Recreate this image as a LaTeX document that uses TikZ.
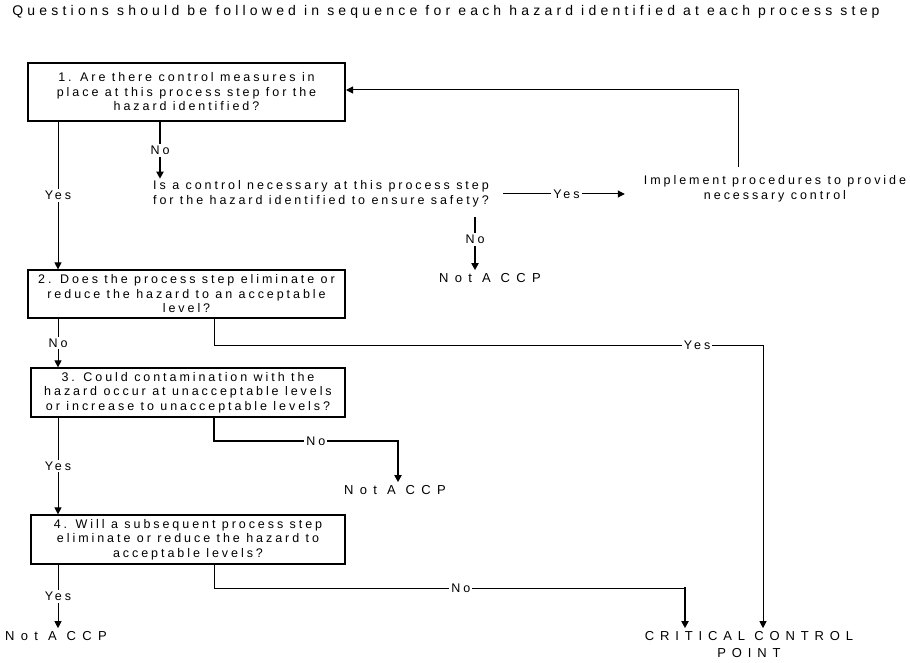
\documentclass[tikz,border=0pt]{standalone}
\usepackage{fontspec}
\setmainfont{Liberation Sans}
\newfontfamily\boxfont[LetterSpace=23.5]{Liberation Sans}
\newfontfamily\titlefont[LetterSpace=30]{Liberation Sans}
\newfontfamily\ncpfont[LetterSpace=49]{Liberation Sans}
\newfontfamily\ccpfont[LetterSpace=45]{Liberation Sans}
\usetikzlibrary{arrows.meta}
\begin{document}
\begin{tikzpicture}[x=1pt,y=-1pt,
  bfont/.style={font=\boxfont\fontsize{12.5}{14.5}\selectfont},
  qbox/.style={draw, line width=1.2pt, align=center, inner sep=0pt, bfont},
  txt/.style={align=center, inner sep=2pt, bfont},
  lbl/.style={fill=white, inner sep=2pt, bfont},
  ncp/.style={inner sep=3pt, font=\ncpfont\fontsize{13}{17}\selectfont},
  ccp/.style={align=center, inner sep=3pt, font=\ccpfont\fontsize{13}{17}\selectfont},
  arr/.style={-{Triangle[width=7pt,length=7pt]}},
  thin line/.style={line width=1pt},
  thick line/.style={line width=2pt}]
\useasboundingbox (0,0) rectangle (910,663);

\node[font=\titlefont\fontsize{14}{16}\selectfont, inner sep=0pt] (title) at (446,12)
  {Questions should be followed in sequence for each hazard identified at each process step};

\node[qbox, line width=2pt, minimum width=317pt, minimum height=58pt] (b1) at (186.5,92)
  {1. Are there control measures in\\place at this process step for the\\hazard identified?};
\node[txt] (q) at (321,194)
  {Is a control necessary at this process step\\for the hazard identified to ensure safety?};
\node[txt] (impl) at (775,189)
  {Implement procedures to provide\\necessary control};
\node[ncp] (ncp1) at (490,278) {Not A CCP};

\node[qbox, minimum width=317pt, minimum height=48pt] (b2) at (186.5,294)
  {2. Does the process step eliminate or\\reduce the hazard to an acceptable\\level?};
\node[qbox, minimum width=314pt, minimum height=49pt] (b3) at (188,392.5)
  {3. Could contamination with the\\hazard occur at unacceptable levels\\or increase to unacceptable levels?};
\node[ncp] (ncp2) at (395,490) {Not A CCP};
\node[qbox, minimum width=314pt, minimum height=49pt] (b4) at (188,539.5)
  {4. Will a subsequent process step\\eliminate or reduce the hazard to\\acceptable levels?};
\node[ncp] (ncp3) at (56,636) {Not A CCP};
\node[ccp] (ccp) at (749,644.5) {CRITICAL CONTROL\\POINT};

% box 1 -> question (No)
\draw[thick line, arr] (b1.south -| 160,0) -- node[lbl]{No} (q.north -| 160,0);
% question -> implement (Yes)
\draw[thin line, arr, shorten <=12pt, shorten >=17pt] (q.east) -- node[lbl, pos=0.5]{Yes} (impl.west |- q.east);
% implement -> box 1
\draw[thin line, arr, shorten <=7pt] (impl.north -| 738,0) |- (b1.east |- 0,90);
% question -> Not A CCP (No)
\draw[thick line, arr, shorten <=8pt] (q.south -| 475,0) -- node[lbl]{No} (ncp1.north -| 475,0);

% box 1 -> box 2 (Yes)
\draw[thin line, arr] (b1.south -| 58,0) -- node[lbl]{Yes} (b2.north -| 58,0);
% box 2 -> box 3 (No)
\draw[thin line, arr] (b2.south -| 58,0) -- node[lbl]{No} (b3.north -| 58,0);
% box 2 -> CCP (Yes)
\draw[thin line, arr] (b2.south -| 214,0) -- (214,345) -- node[lbl, pos=0.88]{Yes} (763,345) -- (ccp.north -| 763,0);
% box 3 -> box 4 (Yes)
\draw[thin line, arr] (b3.south -| 58,0) -- node[lbl]{Yes} (b4.north -| 58,0);
% box 3 -> Not A CCP (No)
\draw[thick line, arr] (b3.south -| 214,0) -- (214,441) -- node[lbl, pos=0.554]{No} (398,441) -- (ncp2.north -| 398,0);
% box 4 -> Not A CCP (Yes)
\draw[thin line, arr] (b4.south -| 58,0) -- node[lbl]{Yes} (ncp3.north -| 58,0);
% box 4 -> CCP (No)
\draw[thin line] (b4.south -| 214,0) -- (214,588) -- node[lbl, pos=0.524]{No} (685,588);
\draw[thick line, arr] (685,587) -- (ccp.north -| 685,0);
\end{tikzpicture}
\end{document}
